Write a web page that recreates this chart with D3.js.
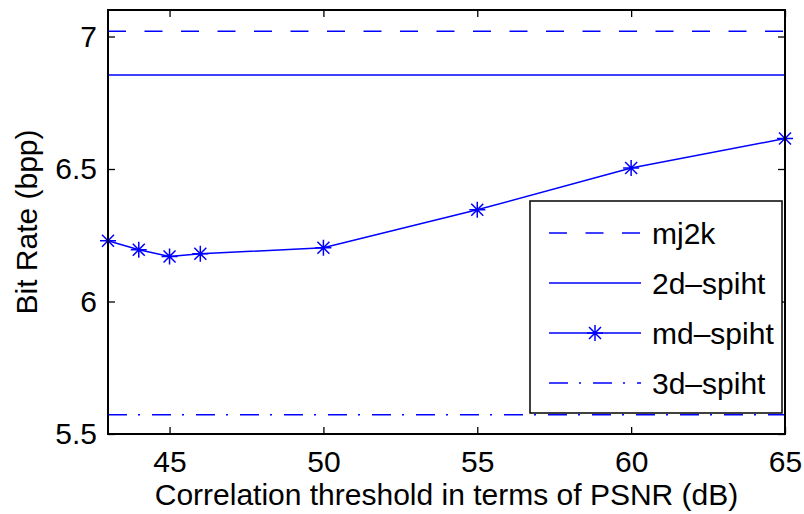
<!DOCTYPE html>
<html>
<head>
<meta charset="utf-8">
<script src="https://cdn.jsdelivr.net/npm/d3@7"></script>
<style>
  body { margin: 0; background: #fff; }
  text { font-family: "Liberation Sans", Arial, Helvetica, sans-serif; }
</style>
</head>
<body>
<div id="chart"></div>
<script>
// values
const thresholds = [43, 44, 45, 46, 50, 55, 60, 65];
const mdSpiht = [6.229, 6.195, 6.170, 6.180, 6.203, 6.346, 6.504, 6.615];
const mj2k = 7.02;
const spiht2d = 6.855;
const spiht3d = 5.573;
const xTicks = [45, 50, 55, 60, 65];
const yTicks = [5.5, 6, 6.5, 7];
const seriesNames = ["mj2k", "2d\u2013spiht", "md\u2013spiht", "3d\u2013spiht"];

const W = 804, H = 514;
const margin = {top: 10, right: 19, bottom: 80, left: 108};
const width = W - margin.left - margin.right,
      height = H - margin.top - margin.bottom;
const blue = "#0000ff";
const fs = 30;

const svg = d3.select("#chart").append("svg")
    .attr("width", W)
    .attr("height", H)
  .append("g")
    .attr("transform", "translate(" + margin.left + "," + margin.top + ")");

const x = d3.scaleLinear().domain([43, 65]).range([0, width]);
const y = d3.scaleLinear().domain([5.5, 7.1]).range([height, 0]);

// axes with inward ticks, mirrored on top / right like matlab
const tickLen = 7;
svg.append("g")
    .attr("transform", "translate(0," + height + ")")
    .call(d3.axisBottom(x).tickValues(xTicks).tickSize(-tickLen).tickPadding(17).tickFormat(d3.format("d")))
    .call(g => g.select(".domain").remove());
svg.append("g")
    .call(d3.axisTop(x).tickValues(xTicks).tickSize(-tickLen).tickFormat(""))
    .call(g => g.select(".domain").remove());
svg.append("g")
    .call(d3.axisLeft(y).tickValues(yTicks).tickSize(-tickLen).tickPadding(11).tickFormat(d => d))
    .call(g => g.select(".domain").remove());
svg.append("g")
    .attr("transform", "translate(" + width + ",0)")
    .call(d3.axisRight(y).tickValues(yTicks).tickSize(-tickLen).tickFormat(""))
    .call(g => g.select(".domain").remove());

svg.selectAll(".tick line").attr("stroke", "#000").attr("stroke-width", 1.3);
svg.selectAll(".tick text").attr("font-size", fs).attr("fill", "#000");

// horizontal reference lines
const hlines = [
  {v: mj2k, dash: "18,18.5"},
  {v: spiht2d, dash: null},
  {v: spiht3d, dash: "19,11,2,12"}
];
hlines.forEach(h => {
  svg.append("line")
    .attr("x1", x(43)).attr("x2", x(65))
    .attr("y1", y(h.v)).attr("y2", y(h.v))
    .attr("stroke", blue).attr("stroke-width", 1.5)
    .attr("stroke-dasharray", h.dash);
});

// md-spiht line with asterisk markers
const pts = thresholds.map((t, i) => ({x: t, y: mdSpiht[i]}));
svg.append("path")
  .datum(pts)
  .attr("fill", "none")
  .attr("stroke", blue)
  .attr("stroke-width", 1.5)
  .attr("d", d3.line().x(d => x(d.x)).y(d => y(d.y)));

function asterisk(g, cx, cy) {
  const r = 8, rd = 6;
  const p = "M" + (cx - r) + "," + cy + "H" + (cx + r) +
            "M" + cx + "," + (cy - r) + "V" + (cy + r) +
            "M" + (cx - rd) + "," + (cy - rd) + "L" + (cx + rd) + "," + (cy + rd) +
            "M" + (cx - rd) + "," + (cy + rd) + "L" + (cx + rd) + "," + (cy - rd);
  g.append("path").attr("d", p).attr("stroke", blue).attr("stroke-width", 1.5).attr("fill", "none");
}
pts.forEach(d => asterisk(svg, x(d.x), y(d.y)));

// axes box
svg.append("rect")
  .attr("width", width).attr("height", height)
  .attr("fill", "none").attr("stroke", "#000").attr("stroke-width", 2);

// legend
const lg = svg.append("g").attr("transform", "translate(" + (530 - margin.left) + "," + (201 - margin.top) + ")");
lg.append("rect")
  .attr("width", 252).attr("height", 212)
  .attr("fill", "#fff").attr("stroke", "#000").attr("stroke-width", 1.5);
const legDash = ["18,18.5", null, null, "19,11,2,12"];
seriesNames.forEach((name, i) => {
  const ly = 32 + i * 50;
  lg.append("line")
    .attr("x1", 19).attr("x2", 111)
    .attr("y1", ly).attr("y2", ly)
    .attr("stroke", blue).attr("stroke-width", 1.5)
    .attr("stroke-dasharray", legDash[i]);
  if (i === 2) asterisk(lg, 65, ly);
  lg.append("text")
    .attr("x", 122).attr("y", ly)
    .attr("dy", "0.35em")
    .attr("font-size", fs)
    .text(name);
});

// axis labels
svg.append("text")
  .attr("x", width / 2).attr("y", height + 71)
  .attr("text-anchor", "middle")
  .attr("font-size", fs)
  .text("Correlation threshold in terms of PSNR (dB)");
svg.append("text")
  .attr("transform", "translate(" + (37 - margin.left) + "," + (height / 2) + ") rotate(-90)")
  .attr("text-anchor", "middle")
  .attr("font-size", fs)
  .text("Bit Rate (bpp)");
</script>
</body>
</html>
